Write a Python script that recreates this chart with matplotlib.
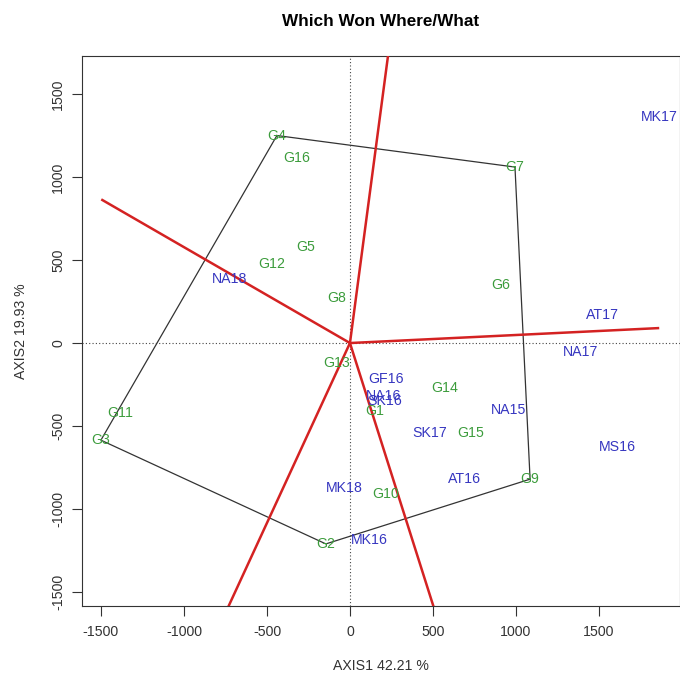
import numpy as np
import matplotlib
matplotlib.use("Agg")
import matplotlib.pyplot as plt

plt.rcParams['font.family'] = ['Liberation Sans', 'DejaVu Sans']

# Genotype scores (AXIS1, AXIS2)
genotypes = ["G1", "G2", "G3", "G4", "G5", "G6", "G7", "G8", "G9", "G10",
             "G11", "G12", "G13", "G14", "G15", "G16"]
geno_x = [150, -145, -1500, -440, -265, 910, 994, -78, 1085, 217,
          -1386, -470, -78, 572, 729, -319]
geno_y = [-410, -1210, -585, 1250, 578, 349, 1060, 271, -820, -910,
          -422, 476, -120, -271, -542, 1114]

# Environment scores (AXIS1, AXIS2)
environments = ["MK17", "AT17", "NA17", "NA15", "MS16", "AT16", "SK17", "MK18",
                "MK16", "NA18", "GF16", "NA16", "SK16"]
env_x = [1861, 1524, 1392, 958, 1608, 687, 482, -36, 114, -723, 217, 200, 210]
env_y = [1361, 169, -54, -404, -627, -819, -542, -873, -1187, 386, -217, -318, -350]

# Convex hull of genotypes, in drawing order
hull = ["G4", "G7", "G9", "G2", "G3"]
# Length of each sector ray (one per hull edge, same order)
ray_len = [2600, 1865, 2600, 2600, 1730]

fig = plt.figure(figsize=(6.8, 6.76), dpi=100)
W, H = 680, 676
left, right, top, bottom = 82, 680, 56, 606
ax = fig.add_axes([left / W, 1 - bottom / H, (right - left) / W, (bottom - top) / H])

ax.set_xlim(-1614, 1988)
ax.set_ylim(-1584, 1729)

green = "#3c9c3c"
blue = "#3636c0"
fs = 10.2

# Reference axes through the origin
ax.axhline(0, color="#444444", lw=0.8, ls=(0, (1, 2)), zorder=1)
ax.axvline(0, color="#444444", lw=0.8, ls=(0, (1, 2)), zorder=1)

# Polygon
idx = {g: i for i, g in enumerate(genotypes)}
hx = [geno_x[idx[g]] for g in hull] + [geno_x[idx[hull[0]]]]
hy = [geno_y[idx[g]] for g in hull] + [geno_y[idx[hull[0]]]]
ax.plot(hx, hy, color="#333333", lw=0.9, zorder=2)

# Rays perpendicular to each polygon edge
for k in range(len(hull)):
    p = np.array([hx[k], hy[k]], float)
    q = np.array([hx[k + 1], hy[k + 1]], float)
    d = q - p
    t = -np.dot(p, d) / np.dot(d, d)
    foot = p + t * d
    u = foot / np.linalg.norm(foot)
    end = u * ray_len[k]
    ax.plot([0, end[0]], [0, end[1]], color="#d42222", lw=1.8, zorder=3,
            solid_capstyle="butt")

# Labels
for name, x, y in zip(genotypes, geno_x, geno_y):
    ax.text(x, y, name, color=green, fontsize=fs, ha="center", va="center", zorder=4)
for name, x, y in zip(environments, env_x, env_y):
    ax.text(x, y, name, color=blue, fontsize=fs, ha="center", va="center", zorder=4)

ticks = [-1500, -1000, -500, 0, 500, 1000, 1500]
ax.set_xticks(ticks)
ax.set_yticks(ticks)
ax.set_xticklabels([str(t) for t in ticks])
ax.set_yticklabels([str(t) for t in ticks], rotation=90, va="center")
ax.tick_params(direction="out", length=7, width=0.8, labelsize=fs,
               colors="#333333", pad=7)
ax.tick_params(axis="y", pad=5)
for s in ax.spines.values():
    s.set_color("#333333")
    s.set_linewidth(0.8)

ax.set_xlabel("AXIS1 42.21 %", fontsize=fs, color="#333333", labelpad=14)
ax.set_ylabel("AXIS2 19.93 %", fontsize=fs, color="#333333", labelpad=17)
fig.text((left + right) / 2 / W, 1 - 22 / H, "Which Won Where/What",
         ha="center", va="center", fontsize=12.3, fontweight="bold")

fig.savefig("out.png", dpi=100)
